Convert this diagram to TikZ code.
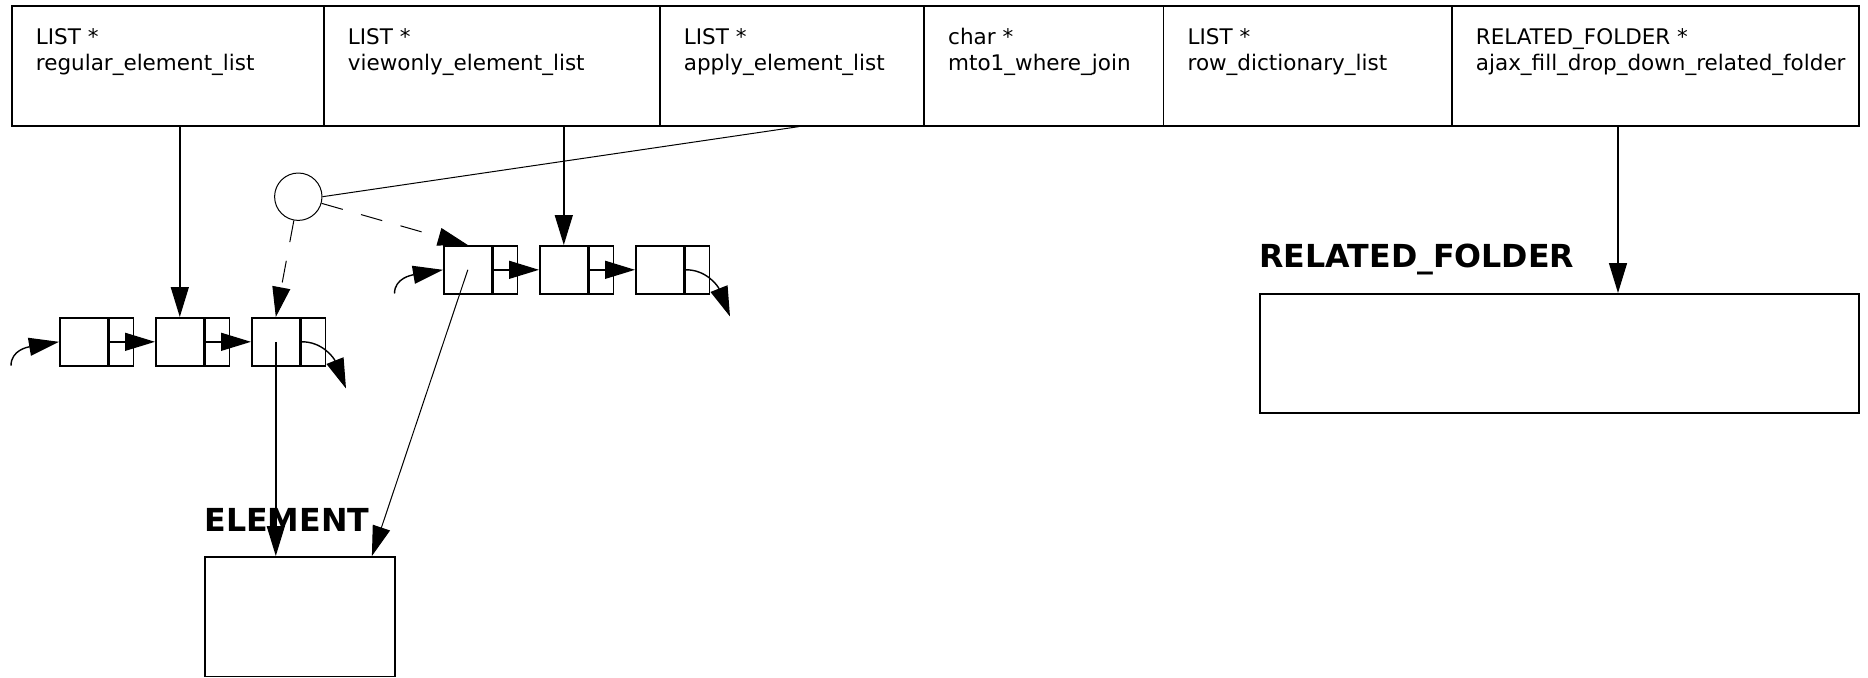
\documentclass[tikz,border=0pt]{standalone}
\usepackage{fontspec}
\setmainfont{DejaVu Sans}
\usetikzlibrary{arrows.meta,calc}
\begin{document}
\begin{tikzpicture}[x=0.5pt,y=-0.5pt,
  box/.style={draw,line width=0.8pt,inner sep=0,anchor=north west},
  cella/.style={draw,line width=0.8pt,inner sep=0,minimum width=24pt,minimum height=24pt,anchor=north west},
  cellb/.style={draw,line width=0.8pt,inner sep=0,minimum width=12pt,minimum height=24pt,anchor=west},
  arr/.style={line width=0.7pt,-{Triangle[length=15pt,width=9pt]}},
  thinarr/.style={line width=0.5pt,-{Triangle[length=15pt,width=9pt]}},
  thinline/.style={line width=0.5pt},
  dsh/.style={line width=0.5pt,dash pattern=on 11pt off 9.5pt,-{Triangle[length=15pt,width=9pt]}},
  lbl/.style={inner sep=0,anchor=base west,font=\fontsize{10.75pt}{13pt}\selectfont},
  ttl/.style={inner sep=0,anchor=base west,font=\fontsize{15.85pt}{19pt}\selectfont\bfseries}]
\useasboundingbox (0,0) rectangle (1868,677);
% top structure
\node[box,minimum width=156pt,minimum height=60pt] (f1) at (11,5) {};
\node[box,minimum width=168pt,minimum height=60pt] (f2) at (323,5) {};
\node[box,minimum width=132.15pt,minimum height=60pt] (f3) at (659,5) {};
\node[box,minimum width=119.7pt,minimum height=60pt] (f4) at (923.3,5) {};
\node[box,minimum width=144.15pt,minimum height=60pt] (f5) at (1162.7,5) {};
\node[box,minimum width=203.7pt,minimum height=60pt] (f6) at (1451,5) {};
\node[lbl] (t1a) at (35.5,44.3) {LIST *};
\node[lbl] (t1b) at (35.5,70) {regular\_element\_list};
\node[lbl] (t2a) at (347.5,44.3) {LIST *};
\node[lbl] (t2b) at (347.5,70) {viewonly\_element\_list};
\node[lbl] (t3a) at (683.5,44.3) {LIST *};
\node[lbl] (t3b) at (683.5,70) {apply\_element\_list};
\node[lbl] (t4a) at (947.8,44.3) {char *};
\node[lbl] (t4b) at (947.8,70) {mto1\_where\_join};
\node[lbl] (t5a) at (1187.2,44.3) {LIST *};
\node[lbl] (t5b) at (1187.2,70) {row\_dictionary\_list};
\node[lbl] (t6a) at (1475.5,44.3) {RELATED\_FOLDER *};
\node[lbl] (t6b) at (1475.5,70) {ajax\_fill\_drop\_down\_related\_folder};
% left list
\node[cella] (a1) at (59,317) {};
\node[cellb] (a1p) at (a1.east) {};
\node[cella] (a2) at (155,317) {};
\node[cellb] (a2p) at (a2.east) {};
\node[cella] (a3) at (251,317) {};
\node[cellb] (a3p) at (a3.east) {};
% right list
\node[cella] (b1) at (443,245) {};
\node[cellb] (b1p) at (b1.east) {};
\node[cella] (b2) at (539,245) {};
\node[cellb] (b2p) at (b2.east) {};
\node[cella] (b3) at (635,245) {};
\node[cellb] (b3p) at (b3.east) {};
% targets
\node[box,minimum width=95.15pt,minimum height=59.75pt] (el) at (204,556) {};
\node[box,minimum width=299.7pt,minimum height=59.5pt] (rf) at (1259,293) {};
\node[ttl] (elt) at (204,531) {ELEMENT};
\node[ttl] (rft) at (1259,267.4) {RELATED\_FOLDER};
% circle
\node[draw,circle,line width=0.5pt,minimum size=23.7pt,inner sep=0] (ci) at (298.3,196.7) {};
% coordinates for free ends
\coordinate (ain) at (11,365.7);
\coordinate (bin) at (394.5,293.5);
\coordinate (aout) at (346,388.5);
\coordinate (bout) at (730,316.5);
\coordinate (rfs) at (1618,125);
% list links
\draw[arr] (a1p.west) -- (a2.west);
\draw[arr] (a2p.west) -- (a3.west);
\draw[arr] (b1p.west) -- (b2.west);
\draw[arr] (b2p.west) -- (b3.west);
\draw[arr] (ain) .. controls (11,350) and (28,347) .. (a1.west);
\draw[arr] (bin) .. controls (394.5,278) and (412,275) .. (b1.west);
\draw[arr] (a3p.west) .. controls (322,341) and (334,358) .. (aout);
\draw[arr] (b3p.west) .. controls (706,269) and (718,286) .. (bout);
% pointers from structure
\draw[arr] (a2 |- f1.south) -- (a2.north);
\draw[arr] (b2 |- f2.south) -- (b2.north);
\draw[arr] (rfs) -- (rfs |- rf.north);
\draw[thinline] ([xshift=3.5pt]f3.south) -- (ci.east);
\draw[dsh] (ci) -- (b1.north);
\draw[dsh] (ci) -- (a3.north);
% elements
\draw[arr] (a3.center) -- (a3.center |- el.north);
\draw[thinarr] (b1.center) -- ([xshift=-12pt]el.north east);
\end{tikzpicture}
\end{document}
